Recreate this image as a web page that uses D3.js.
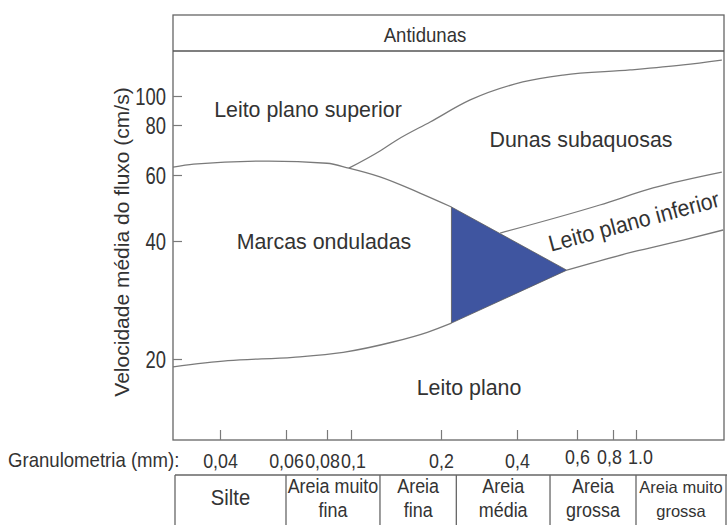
<!DOCTYPE html>
<html>
<head>
<meta charset="utf-8">
<script src="https://cdn.jsdelivr.net/npm/d3@7"></script>
<style>
  body { margin: 0; background: #fff; }
  svg { display: block; font-family: "Liberation Sans", Arial, sans-serif; }
</style>
</head>
<body>
<svg id="chart"></svg>
<script>
// Granulometria (mm) ticks
const xTicks = [0.04, 0.06, 0.08, 0.1, 0.2, 0.4, 0.6, 0.8, 1.0]
const xTickLabels = ["0,04", "0,06", "0,08", "0,1", "0,2", "0,4", "0,6", "0,8", "1.0"]

// Velocidade (cm/s) ticks
const yTicks = [20, 40, 60, 80, 100]
const yTickLabels = ["20", "40", "60", "80", "100"]

// boundaries, as [grain size mm, velocity cm/s]
const upperPlaneBoundary = [[0.03, 62.8], [0.034, 63.9], [0.054, 65], [0.08, 64.2], [0.098, 62.4], [0.125, 59.3], [0.17, 53.7], [0.22, 49.3]]
const duneUpperBoundary = [[0.098, 62.4], [0.125, 68.9], [0.1425, 73.4], [0.184, 81.9], [0.261, 97], [0.416, 111.4], [0.546, 117.5], [0.944, 122.2], [1.58, 127], [2.3, 131.9]]
const rippleLowerBoundary = [[0.03, 19.1], [0.042, 19.8], [0.063, 20.2], [0.093, 20.8], [0.138, 22.1], [0.18, 23.4], [0.22, 24.7]]
const lowerPlaneTop = [[0.343, 42], [0.72, 49.9], [1.18, 55.4], [2.3, 61]]
const lowerPlaneBottom = [[0.56, 33.7], [0.97, 37.5], [1.58, 40.2], [2.33, 42.8]]
const transitionZone = [[0.22, 49.3], [0.22, 24.7], [0.56, 33.7]]

// size classes under the axis
const classBreaks = [0.06, 0.125, 0.23, 0.5, 1.0]
const classNames = [["Silte"], ["Areia muito", "fina"], ["Areia", "fina"], ["Areia", "média"], ["Areia", "grossa"], ["Areia muito", "grossa"]]

const width = 727
const height = 525
const plotLeft = 173, plotRight = 724, plotTop = 15, bandY = 51, plotBottom = 440
const tableTop = 475, tableLeft = 175, tableRight = 726

const lineColor = "#7a7a7a"
const textColor = "#333"

const svg = d3.select("#chart")
    .attr("width", width)
    .attr("height", height)

// hand-drawn axes: piecewise log scales through the tick marks
const x = d3.scaleLog()
    .domain(xTicks)
    .range([220, 286, 327, 351, 441, 517, 577, 613, 636])

const y = d3.scaleLog()
    .domain(yTicks)
    .range([359, 241, 175, 125, 96])

const line = d3.line()
    .x(d => x(d[0]))
    .y(d => y(d[1]))
    .curve(d3.curveMonotoneX)

// blue triangle
svg.append("path")
    .attr("d", d3.line().x(d => x(d[0])).y(d => y(d[1]))(transitionZone) + "Z")
    .attr("fill", "#3f55a0")
    .attr("stroke", "#5a5a5a")
    .attr("stroke-width", 0.8)

// boundaries
svg.selectAll(".boundary")
    .data([upperPlaneBoundary, duneUpperBoundary, rippleLowerBoundary, lowerPlaneTop, lowerPlaneBottom])
    .enter()
    .append("path")
    .attr("class", "boundary")
    .attr("d", line)
    .attr("fill", "none")
    .attr("stroke", lineColor)
    .attr("stroke-width", 1.3)

// frame
svg.append("rect")
    .attr("x", plotLeft)
    .attr("y", plotTop)
    .attr("width", plotRight - plotLeft)
    .attr("height", plotBottom - plotTop)
    .attr("fill", "none")
    .attr("stroke", "#666")
    .attr("stroke-width", 1.3)

svg.append("line")
    .attr("x1", plotLeft).attr("x2", plotRight)
    .attr("y1", bandY).attr("y2", bandY)
    .attr("stroke", "#555")
    .attr("stroke-width", 1.3)

// X axis
const xAxis = d3.axisBottom(x)
    .tickValues(xTicks)
    .tickSize(-10)
    .tickFormat((d, i) => xTickLabels[i])

// labels are crowded in the original, nudge a few
const xLabelShift = { 0.08: -5, 0.1: 2, 0.8: -4, 1: 4 }

const gx = svg.append("g")
    .attr("transform", `translate(0, ${plotBottom})`)
    .call(xAxis)
gx.select(".domain").remove()
gx.selectAll(".tick line").attr("stroke", lineColor).attr("stroke-width", 1.2)
gx.selectAll(".tick text")
    .attr("y", d => (d >= 0.6 ? 24 : 28))
    .attr("dy", null)
    .attr("x", d => (xLabelShift[d] || 0) / 0.85)
    .attr("transform", "scale(0.85,1)")
    .attr("font-size", 21)
    .attr("font-family", "Liberation Sans, Arial, sans-serif")
    .attr("fill", textColor)

// Y axis
const yAxis = d3.axisLeft(y)
    .tickValues(yTicks)
    .tickSize(-9)
    .tickFormat((d, i) => yTickLabels[i])

const gy = svg.append("g")
    .attr("transform", `translate(${plotLeft}, 0)`)
    .call(yAxis)
gy.select(".domain").remove()
gy.selectAll(".tick line").attr("stroke", lineColor).attr("stroke-width", 1.2)
gy.selectAll(".tick text")
    .attr("x", -7 / 0.8)
    .attr("dy", "0.36em")
    .attr("transform", "scale(0.8,1)")
    .attr("font-size", 23)
    .attr("font-family", "Liberation Sans, Arial, sans-serif")
    .attr("fill", textColor)

// axis titles
svg.append("text")
    .attr("transform", "translate(129, 242) rotate(-90)")
    .attr("text-anchor", "middle")
    .attr("font-size", 21)
    .attr("fill", textColor)
    .text("Velocidade média do fluxo (cm/s)")

svg.append("text")
    .attr("transform", "translate(8, 467) scale(0.93,1)")
    .attr("font-size", 20)
    .attr("fill", textColor)
    .text("Granulometria (mm):")

// region names
const regions = [
    { name: "Antidunas", tx: "translate(425, 42)", size: 20 },
    { name: "Leito plano superior", tx: "translate(308, 117)", size: 23 },
    { name: "Dunas subaquosas", tx: "translate(581, 147)", size: 23 },
    { name: "Marcas onduladas", tx: "translate(324, 249)", size: 23 },
    { name: "Leito plano inferior", tx: "translate(636, 229) rotate(-15)", size: 23 },
    { name: "Leito plano", tx: "translate(469, 395)", size: 23 }
]
svg.selectAll(".region")
    .data(regions)
    .enter()
    .append("text")
    .attr("class", "region")
    .attr("transform", d => d.tx + " scale(0.93,1)")
    .attr("text-anchor", "middle")
    .attr("font-size", d => d.size)
    .attr("fill", textColor)
    .text(d => d.name)

// size class table
const edges = [tableLeft, ...classBreaks.map(b => x(b)), tableRight]

svg.append("line")
    .attr("x1", tableLeft).attr("x2", width)
    .attr("y1", tableTop).attr("y2", tableTop)
    .attr("stroke", "#666")
    .attr("stroke-width", 1.3)

svg.selectAll(".divider")
    .data(edges)
    .enter()
    .append("line")
    .attr("class", "divider")
    .attr("x1", d => d).attr("x2", d => d)
    .attr("y1", tableTop).attr("y2", height)
    .attr("stroke", "#666")
    .attr("stroke-width", 1.3)

const cells = svg.selectAll(".cell")
    .data(classNames)
    .enter()
    .append("text")
    .attr("class", "cell")
    .attr("text-anchor", "middle")
    .attr("fill", textColor)
    .attr("font-size", (d, i) => (i === 0 ? 22 : i === 5 ? 16.5 : 19.5))
    .attr("transform", (d, i) => {
        const cx = (edges[i] + edges[i + 1]) / 2
        const cy = d.length === 1 ? 505 : 493
        const sx = i === 5 ? 1 : 0.92
        return `translate(${cx}, ${cy}) scale(${sx},1)`
    })

cells.selectAll("tspan")
    .data(d => d)
    .enter()
    .append("tspan")
    .attr("x", 0)
    .attr("y", (d, i) => i * 24)
    .text(d => d)
</script>
</body>
</html>
